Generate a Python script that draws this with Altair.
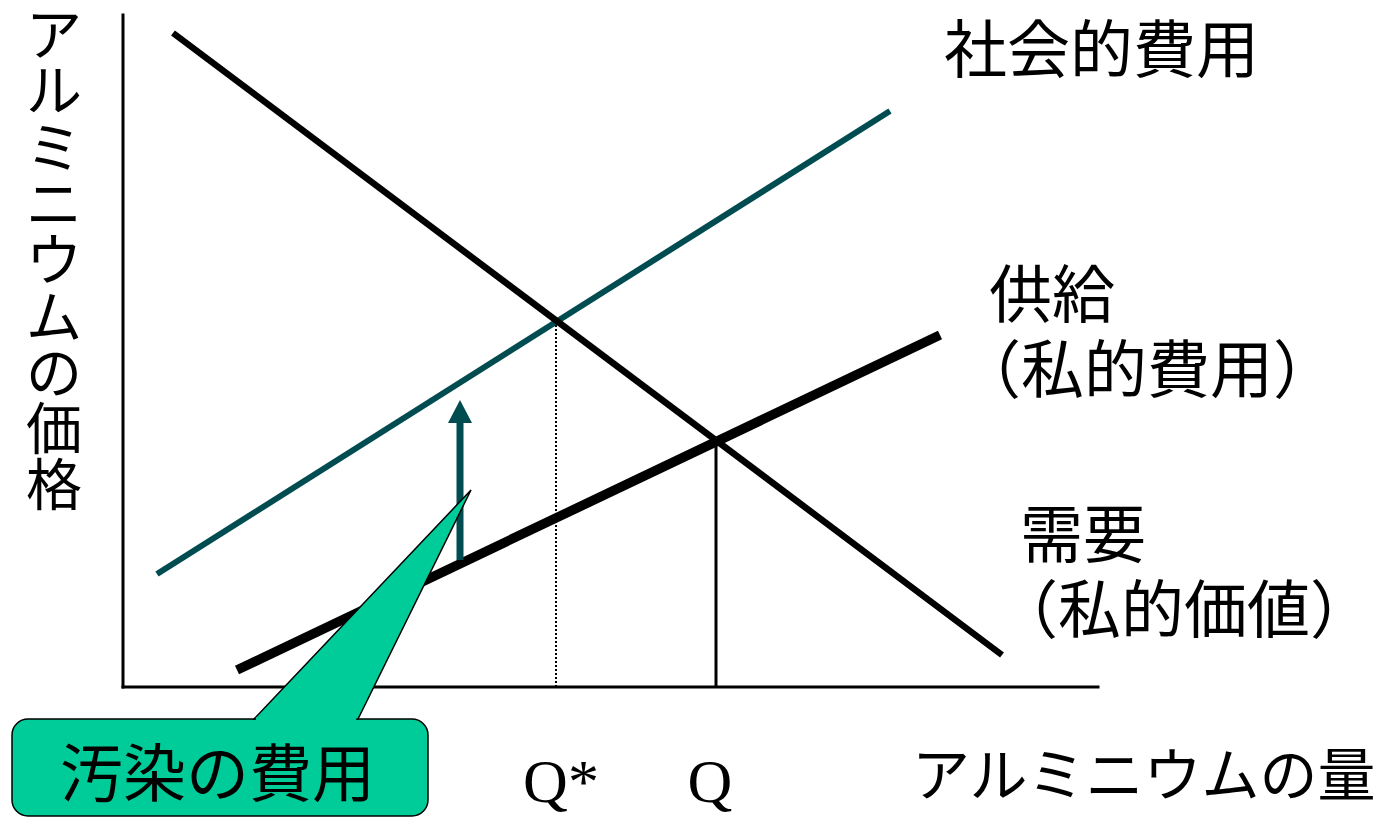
import altair as alt
import pandas as pd

# ---- data (diagram units: quantity along x, price along y; origin at the axes' corner)
curve_names = ["需要（私的価値）", "社会的費用", "供給（私的費用）"]
curve_q0 = [50, 34, 114]
curve_p0 = [654, 113, 17]
curve_q1 = [879, 767, 817]
curve_p1 = [32, 576, 352]

axis_q_max = 975
axis_p_max = 672

q_star = 433      # social optimum quantity
p_star = 365
q_market = 593    # market quantity
p_market = 245

arrow_q = 337
arrow_p_from = 127
arrow_p_tip = 287

callout_q = [-111, 305]
callout_p = [-32, -129]
pointer_q = [131, 235, 348]   # base-left, base-right, tip
pointer_p = [-32, -32, 197]

label_texts = ["社会的費用", "供給", "（私的費用）", "需要", "（私的価値）"]
label_q = [821, 866, 835, 897, 872]
label_p = [634, 389, 314, 149, 74]

callout_text = "汚染の費用"
x_title = "アルミニウムの量"
y_title = "アルミニウムの価格"
tick_texts = ["Q*", "Q"]
tick_q = [q_star + 5, q_market - 6]

TEAL = "#004C50"
GREEN = "#00CC99"
JP = "Noto Sans CJK JP"

xs = alt.Scale(domain=[-115, 1252], nice=False, zero=False)
ys = alt.Scale(domain=[-132, 679], nice=False, zero=False)


def X(f):
    return alt.X(f, type="quantitative", scale=xs, axis=None)


def Y(f):
    return alt.Y(f, type="quantitative", scale=ys, axis=None)


curves = pd.DataFrame({"name": curve_names, "q0": curve_q0, "p0": curve_p0,
                       "q1": curve_q1, "p1": curve_p1})


def seg(name, width, color):
    d = curves[curves["name"] == name]
    return alt.Chart(d).mark_rule(strokeWidth=width, color=color, strokeCap="butt").encode(
        x=X("q0"), y=Y("p0"), x2="q1", y2="p1")


demand = seg(curve_names[0], 6.5, "black")
social = seg(curve_names[1], 6, TEAL)
supply = seg(curve_names[2], 9.5, "black")

axes_df = pd.DataFrame({"q0": [0, 0], "p0": [0, 0], "q1": [0, axis_q_max], "p1": [axis_p_max, 0]})
axes = alt.Chart(axes_df).mark_rule(strokeWidth=3, color="black", strokeCap="square").encode(
    x=X("q0"), y=Y("p0"), x2="q1", y2="p1")

dotted = alt.Chart(pd.DataFrame({"q": [q_star], "p0": [0], "p1": [p_star]})).mark_rule(
    strokeWidth=2, color="black", strokeDash=[2, 2]).encode(x=X("q"), y=Y("p0"), y2="p1")
solid_v = alt.Chart(pd.DataFrame({"q": [q_market], "p0": [0], "p1": [p_market]})).mark_rule(
    strokeWidth=3, color="black").encode(x=X("q"), y=Y("p0"), y2="p1")

shaft = alt.Chart(pd.DataFrame({"q": [arrow_q], "p0": [arrow_p_from], "p1": [arrow_p_tip - 20]})).mark_rule(
    strokeWidth=7, color=TEAL, strokeCap="butt").encode(x=X("q"), y=Y("p0"), y2="p1")
head = alt.Chart(pd.DataFrame({"q": [arrow_q], "p": [arrow_p_tip - 11.5]})).mark_point(
    shape="M-1,0.96L0,-0.96L1,0.96Z", size=576, filled=True, color=TEAL, opacity=1).encode(
    x=X("q"), y=Y("p"))

box = alt.Chart(pd.DataFrame({"q0": [callout_q[0]], "q1": [callout_q[1]],
                              "p0": [callout_p[0]], "p1": [callout_p[1]]})).mark_rect(
    fill=GREEN, stroke="black", strokeWidth=1.5, cornerRadius=16).encode(
    x=X("q0"), x2="q1", y=Y("p0"), y2="p1")

# pointer triangle as an area: upper edge base-left -> tip, lower edge base -> tip
qa, qb, qt = pointer_q
pa, pb, pt = pointer_p
p_on_left_edge = pa + (qb - qa) / (qt - qa) * (pt - pa)
tri_df = pd.DataFrame({"q": [qa, qb, qt], "top": [pa, p_on_left_edge, pt], "bot": [pa, pb, pt]})
tri = alt.Chart(tri_df).mark_area(fill=GREEN, stroke="black", strokeWidth=1.5,
                                  interpolate="linear", opacity=1).encode(
    x=X("q"), y=Y("top"), y2="bot")
cover = alt.Chart(pd.DataFrame({"q0": [qa + 1.8], "q1": [qb - 1.8], "p": [pa]})).mark_rule(
    strokeWidth=3.5, color=GREEN).encode(x=X("q0"), x2="q1", y=Y("p"))

lab_df = pd.DataFrame({"t": label_texts, "q": label_q, "p": label_p})
labels = alt.Chart(lab_df).mark_text(align="left", baseline="middle", font=JP, fontSize=63,
                                     color="black").encode(x=X("q"), y=Y("p"), text="t:N")

callout_lab = alt.Chart(pd.DataFrame({"t": [callout_text], "q": [-63], "p": [-90]})).mark_text(
    align="left", baseline="middle", font=JP, fontSize=63, color="black").encode(
    x=X("q"), y=Y("p"), text="t:N")

xt = alt.Chart(pd.DataFrame({"t": [x_title], "q": [789], "p": [-92]})).mark_text(
    align="left", baseline="middle", font=JP, fontSize=58, color="black").encode(
    x=X("q"), y=Y("p"), text="t:N")

# vertical axis title: one character per line, first line anchored near the top
yt = alt.Chart(pd.DataFrame({"t": ["\n".join(y_title)], "q": [-69], "p": [649]})).mark_text(
    align="center", baseline="middle", font=JP, fontSize=56, lineHeight=56.3, lineBreak="\n",
    color="black").encode(x=X("q"), y=Y("p"), text="t:N")

ticks = alt.Chart(pd.DataFrame({"t": tick_texts, "q": tick_q, "p": [-115, -115]})).mark_text(
    align="center", baseline="alphabetic", font="Liberation Serif", fontSize=62, color="black").encode(
    x=X("q"), y=Y("p"), text="t:N")

chart = alt.layer(
    social, demand, supply, dotted, solid_v, axes, shaft, head, box, tri, cover,
    labels, callout_lab, xt, yt, ticks
).properties(
    width=1367, height=811, padding=0, autosize=alt.AutoSizeParams(type="none")
).configure_view(stroke=None)

chart.save("out.html", embed_options={"renderer": "svg", "actions": False})
